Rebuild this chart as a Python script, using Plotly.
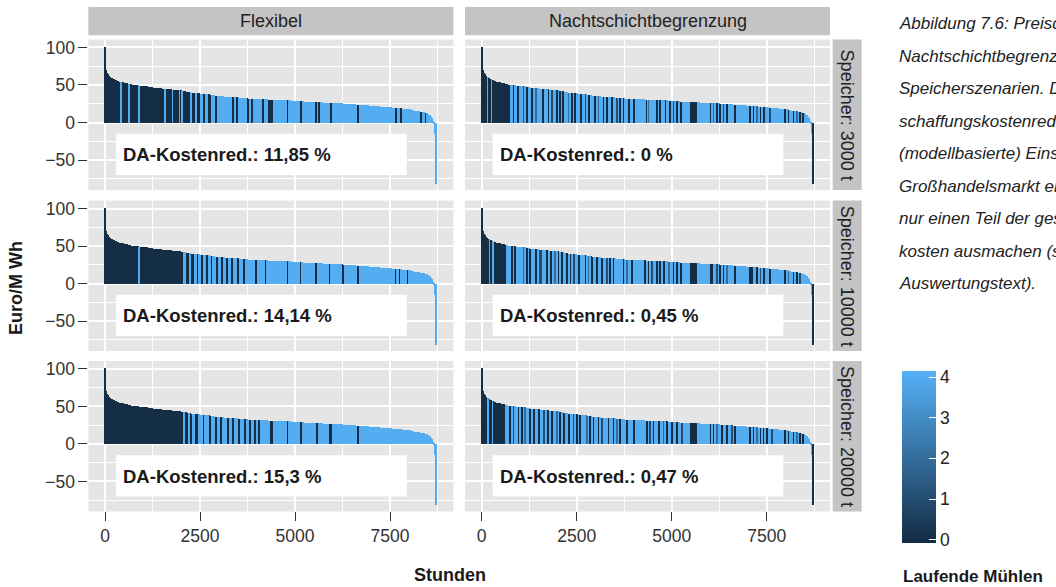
import plotly.graph_objects as go
from bisect import bisect_right

# ------------------------------------------------------------------ data
spalten = ["Flexibel", "Nachtschichtbegrenzung"]
zeilen = ["Speicher: 3000 t", "Speicher: 10000 t", "Speicher: 20000 t"]
kostenred = [["11,85 %", "0 %"], ["14,14 %", "0,45 %"], ["15,3 %", "0,47 %"]]

x_ticks = [0, 2500, 5000, 7500]
x_minor = [1250, 3750, 6250, 8750]
y_ticks = [-50, 0, 50, 100]
y_minor = [-75, -25, 25, 75]
muehlen_ticks = [0, 1, 2, 3, 4]

# sorted price duration curve (hour where a level starts, price in Euro/MWh)
preis_stunden = [0, 25, 45, 70, 100, 135, 170, 215, 260, 320, 380, 450, 520, 610, 700, 800,
                 900, 1020, 1150, 1270, 1400, 1520, 1650, 1770, 1900, 2020, 2150, 2270, 2400,
                 2520, 2650, 2770, 2900, 3020, 3150, 3270, 3400, 3520, 3650, 3770, 3900, 4020,
                 4150, 4300, 4450, 4600, 4750, 4900, 5050, 5220, 5400, 5570, 5750, 5920, 6100,
                 6270, 6450, 6620, 6800, 6950, 7100, 7250, 7400, 7550, 7700, 7820, 7950, 8050,
                 8150, 8230, 8300, 8360, 8420, 8460, 8500, 8530, 8560, 8585, 8610, 8625, 8640,
                 8650, 8660, 8670, 8680, 8690, 8700, 8710]
preis_werte = [101, 70, 67, 65, 63, 61.5, 60, 58.5, 57.5, 56, 55, 54, 53, 52, 51, 50,
               49.5, 48.7, 48, 47.2, 46.5, 45.7, 45, 44.2, 43.5, 42.5, 41.5, 40.5, 39.5,
               38.7, 38, 37.2, 36.5, 35.7, 35, 34.5, 34, 33.5, 33, 32.5, 32, 31.7,
               31.5, 31.2, 31, 30.5, 30, 29.5, 29, 28.5, 28, 27.5, 27, 26.5, 26,
               25.5, 25, 24.5, 24, 23.2, 22.5, 21.7, 21, 20.2, 19.5, 18.7, 18, 17.2,
               16.5, 15.7, 15, 14.2, 13.5, 12.7, 12, 11, 10, 8.5, 7, 5, 3,
               1, -2, -5, -9, -15, -22, -81]
stunden_ende = 8730
assert len(preis_stunden) == len(preis_werte)

# hours with fewer running mills (all other hours: 4 mills)
flex3_start = [0, 455, 680, 925, 1615, 1810, 1990, 2060, 2290, 2430, 2580, 2720, 2920, 3360, 3470,
               3760, 3860, 4150, 4300, 4810, 5160, 5560, 5630, 5950, 6650, 7660, 7790, 8320, 8440]
flex3_ende = [420, 640, 890, 1580, 1780, 1960, 2030, 2260, 2400, 2520, 2650, 2800, 2960, 3400, 3510,
              3800, 3900, 4190, 4440, 4850, 5200, 5600, 5670, 5990, 6690, 7700, 7830, 8360, 8480]
flex3_muehlen = [0, 0, 0, 0, 0, 0, 0, 0, 0, 0, 0, 0, 0, 0, 0,
                 0, 0, 0, 0, 0, 0, 0, 0, 0, 0, 0, 0, 0, 0]

flex10_start = [0, 940, 2150, 2280, 2420, 2560, 2680, 2800, 2930, 3080, 3210, 3350, 3500, 3660,
                3980, 4230, 4820, 5160, 5560, 5910, 6260, 6650, 7660, 7760, 7970]
flex10_ende = [900, 2070, 2210, 2340, 2480, 2610, 2740, 2850, 2990, 3120, 3260, 3390, 3540, 3700,
               4010, 4260, 4850, 5190, 5590, 5940, 6290, 6690, 7690, 7790, 8000]
flex10_muehlen = [0, 0, 0, 0, 0, 0, 0, 0, 0, 0, 0, 0, 0, 0,
                  0, 0, 0, 0, 0, 0, 0, 0, 0, 0, 0]

flex20_start = [0, 2130, 2260, 2400, 2590, 2760, 2920, 3050, 3230, 3360, 3520, 3690, 3800, 3950,
                4060, 4350, 4810, 5160, 5580, 5930, 6650]
flex20_ende = [2060, 2190, 2310, 2450, 2640, 2810, 2970, 3100, 3270, 3400, 3560, 3730, 3840, 3990,
               4100, 4440, 4850, 5200, 5620, 5970, 6690]
flex20_muehlen = [0, 0, 0, 0, 0, 0, 0, 0, 0, 0, 0, 0, 0, 0,
                  0, 0, 0, 0, 0, 0, 0]

nacht3_start = [0, 185, 285, 830, 920, 1095, 1185, 1315, 1405, 1605,
                1755, 1840, 1975, 2060, 2130, 2280, 2370, 2455, 2605, 2720,
                2805, 2980, 3070, 3200, 3290, 3420, 3550, 3640, 3725, 3860,
                3990, 4340, 4385, 4605, 4690, 4825, 4955, 5045, 5130, 5220,
                5480, 6010, 6095, 6185, 6270, 6360, 6445, 6665, 7060, 7150,
                7235, 7325, 7410, 7585, 7980, 8070, 8200, 8290, 8375, 8445, 8710]
nacht3_ende = [150, 250, 740, 870, 990, 1135, 1225, 1355, 1445, 1645,
               1795, 1880, 2015, 2100, 2170, 2320, 2410, 2495, 2645, 2760,
               2845, 3020, 3110, 3240, 3330, 3460, 3590, 3680, 3765, 3900,
               4030, 4375, 4425, 4645, 4730, 4865, 4995, 5085, 5170, 5260,
               5660, 6050, 6135, 6225, 6310, 6400, 6485, 6705, 7100, 7190,
               7275, 7365, 7450, 7625, 8020, 8110, 8240, 8330, 8415, 8485, 8730]
nacht3_muehlen = [0, 0, 0, 0, 0, 1, 0, 0, 2, 0,
                  0, 1, 0, 0, 0, 2, 0, 0, 0, 1,
                  0, 0, 2, 0, 0, 0, 1, 0, 0, 0,
                  0, 0, 2, 0, 0, 0, 0, 1, 0, 0,
                  0, 0, 2, 0, 0, 1, 0, 0, 0, 0,
                  2, 0, 0, 1, 0, 0, 0, 2, 0, 0, 0]

nacht10_start = [0, 240, 330, 790, 875, 1095, 1185, 1270, 1405, 1535,
                 1710, 1800, 1930, 2015, 2105, 2235, 2325, 2410, 2545, 2720,
                 2805, 2895, 3025, 3155, 3290, 3375, 3465, 3725, 3815, 3945,
                 4295, 4385, 4475, 4605, 4690, 4780, 4910, 5045, 5130, 5220,
                 5480, 6010, 6185, 6270, 6360, 6445, 6665, 7060, 7235, 7325,
                 7410, 7585, 7980, 8070, 8200, 8290, 8375, 8710]
nacht10_ende = [200, 290, 660, 830, 915, 1135, 1225, 1310, 1445, 1575,
                1750, 1840, 1970, 2055, 2145, 2275, 2365, 2450, 2585, 2760,
                2845, 2935, 3065, 3195, 3330, 3415, 3505, 3765, 3855, 3985,
                4335, 4425, 4515, 4645, 4730, 4820, 4950, 5085, 5170, 5260,
                5660, 6095, 6225, 6310, 6400, 6485, 6705, 7150, 7275, 7365,
                7450, 7625, 8020, 8110, 8240, 8330, 8415, 8730]
nacht10_muehlen = [0, 0, 0, 0, 0, 2, 0, 0, 0, 1,
                   0, 0, 2, 0, 0, 0, 0, 1, 0, 0,
                   2, 0, 0, 0, 1, 0, 0, 0, 2, 0,
                   0, 0, 1, 0, 0, 0, 2, 0, 0, 0,
                   0, 0, 1, 0, 0, 2, 0, 0, 0, 1,
                   0, 0, 0, 2, 0, 0, 1, 0]

nacht20_start = [0, 200, 310, 745, 835, 965, 1050, 1140, 1270, 1360,
                 1490, 1620, 1730, 1840, 1975, 2060, 2150, 2280, 2410, 2500,
                 2585, 2765, 2850, 2940, 3070, 3155, 3335, 3465, 3550, 3640,
                 3815, 3990, 4340, 4430, 4515, 4650, 4780, 4865, 5000, 5130,
                 5260, 5480, 6010, 6095, 6185, 6315, 6445, 6580, 6665, 7060,
                 7150, 7235, 7325, 7410, 7500, 7630, 7980, 8070, 8200, 8290,
                 8375, 8445, 8710]
nacht20_ende = [160, 275, 610, 785, 875, 1005, 1090, 1180, 1310, 1400,
                1530, 1660, 1770, 1880, 2015, 2100, 2190, 2320, 2450, 2540,
                2625, 2805, 2890, 2980, 3110, 3195, 3375, 3505, 3590, 3680,
                3855, 4030, 4380, 4470, 4555, 4690, 4820, 4905, 5040, 5170,
                5300, 5675, 6050, 6135, 6225, 6355, 6485, 6620, 6705, 7100,
                7190, 7275, 7365, 7450, 7540, 7670, 8020, 8110, 8240, 8330,
                8415, 8485, 8730]
nacht20_muehlen = [0, 0, 0, 0, 1, 0, 0, 2, 0, 0,
                   0, 1, 0, 0, 2, 0, 0, 0, 1, 0,
                   0, 2, 0, 0, 0, 1, 0, 0, 2, 0,
                   0, 0, 0, 1, 0, 0, 2, 0, 0, 0,
                   1, 0, 0, 0, 2, 0, 0, 1, 0, 0,
                   0, 2, 0, 0, 0, 1, 0, 0, 0, 2,
                   0, 0, 0]

standard_muehlen = 4

caption = [
    "Abbildung 7.6: Preisdauerlinien für die",
    "Nachtschichtbegrenzung und die",
    "Speicherszenarien. Die Be-",
    "schaffungskostenreduktion bezieht sich auf den",
    "(modellbasierte) Einsatz am",
    "Großhandelsmarkt ein, der",
    "nur einen Teil der gesamten Strom-",
    "kosten ausmachen (siehe",
    "Auswertungstext).",
]

panel_daten = [
    [(flex3_start, flex3_ende, flex3_muehlen), (nacht3_start, nacht3_ende, nacht3_muehlen)],
    [(flex10_start, flex10_ende, flex10_muehlen), (nacht10_start, nacht10_ende, nacht10_muehlen)],
    [(flex20_start, flex20_ende, flex20_muehlen), (nacht20_start, nacht20_ende, nacht20_muehlen)],
]

# ------------------------------------------------------------------ styling / layout
W, H = 1056, 587
FONT = "Liberation Sans, Arial, Helvetica, sans-serif"
COLORSCALE = [[0, "#132B43"], [1, "#56B1F7"]]
PANEL_BG = "#E5E5E5"
STRIP_BG = "#C4C4C4"
TXT = "#222222"
TICK = "#333333"

spalten_px = [(88.4, 453.4), (465.0, 830.0)]
zeilen_px = [(37.7, 188.7), (199.3, 350.3), (360.2, 511.2)]
strip_top = (5.0, 33.3)
strip_right = (832.7, 861.7)
x_range = [-438, 9167]
y_range = [-90, 110.5]
cmin, cmax = -0.08, 4.15
cb_top, cb_bot, cb_left, cb_thick = 370.0, 543.0, 902.0, 34


def fx(p):
    return p / W


def fy(p):
    return 1 - p / H


def balken(start, ende, muehlen):
    grenzen = sorted(set(preis_stunden + [stunden_ende] + start + ende))
    grenzen = [g for g in grenzen if g <= stunden_ende]
    xs, ws, ys, cs = [], [], [], []
    for a, b in zip(grenzen[:-1], grenzen[1:]):
        i = bisect_right(preis_stunden, a) - 1
        m = standard_muehlen
        for s, e, mm in zip(start, ende, muehlen):
            if s <= a < e:
                m = mm
                break
        xs.append((a + b) / 2)
        ws.append(b - a)
        ys.append(preis_werte[i])
        cs.append(m)
    return xs, ws, ys, cs


fig = go.Figure()
layout = {}
shapes = []
annotations = []

for r in range(3):
    for c in range(2):
        k = r * 2 + c + 1
        xa = "x" if k == 1 else f"x{k}"
        ya = "y" if k == 1 else f"y{k}"
        xkey = "xaxis" if k == 1 else f"xaxis{k}"
        ykey = "yaxis" if k == 1 else f"yaxis{k}"
        xs, ws, ys, cs = balken(*panel_daten[r][c])
        fig.add_trace(go.Bar(
            x=xs, y=ys, width=ws, xaxis=xa, yaxis=ya,
            marker=dict(color=cs, colorscale=COLORSCALE, cmin=cmin, cmax=cmax,
                        line=dict(width=0),
                        showscale=(k == 1),
                        colorbar=dict(
                            x=fx(cb_left), xanchor="left",
                            y=fy((cb_top + cb_bot) / 2), yanchor="middle",
                            len=(cb_bot - cb_top) / H, lenmode="fraction",
                            thickness=cb_thick, thicknessmode="pixels",
                            outlinewidth=0, xpad=0, ypad=0,
                            tickvals=muehlen_ticks, ticks="inside", ticklen=7,
                            tickcolor="white", tickwidth=1.3,
                            tickfont=dict(size=17.5, color=TXT, family=FONT),
                        )),
            hoverinfo="skip", showlegend=False,
        ))
        x0, x1 = spalten_px[c]
        y0, y1 = zeilen_px[r]
        layout[xkey] = dict(
            domain=[fx(x0), fx(x1)], anchor=ya, range=x_range,
            showgrid=True, gridcolor="white", gridwidth=1.8, zeroline=False,
            tickvals=x_ticks, showticklabels=(r == 2),
            ticks="outside" if r == 2 else "", ticklen=9, tickwidth=1.3, tickcolor=TICK,
            tickfont=dict(size=17.5, color=TICK, family=FONT),
            minor=dict(tickvals=x_minor, showgrid=True, gridcolor="white", gridwidth=0.9),
            showline=False, fixedrange=True,
        )
        layout[ykey] = dict(
            domain=[fy(y1), fy(y0)], anchor=xa, range=y_range,
            showgrid=True, gridcolor="white", gridwidth=1.8, zeroline=False,
            tickvals=y_ticks, showticklabels=(c == 0),
            ticks="outside" if c == 0 else "", ticklen=9, tickwidth=1.3, tickcolor=TICK,
            tickfont=dict(size=17.5, color=TICK, family=FONT),
            minor=dict(tickvals=y_minor, showgrid=True, gridcolor="white", gridwidth=0.9),
            showline=False, fixedrange=True,
        )
        # label box + text
        shapes.append(dict(type="rect", xref=xa, yref=ya, x0=290, x1=7940, y0=-70, y1=-15,
                           fillcolor="white", line=dict(width=0), layer="above"))
        annotations.append(dict(xref=xa, yref=ya, x=420, y=-43, xanchor="left", yanchor="middle",
                                text="<b>DA-Kostenred.: " + kostenred[r][c] + "</b>",
                                showarrow=False,
                                font=dict(size=18.5, color="#1A1A1A", family=FONT)))

# facet strips
for c in range(2):
    x0, x1 = spalten_px[c]
    shapes.append(dict(type="rect", xref="paper", yref="paper", x0=fx(x0), x1=fx(x1),
                       y0=fy(strip_top[1]), y1=fy(strip_top[0]),
                       fillcolor=STRIP_BG, line=dict(width=0), layer="below"))
    annotations.append(dict(xref="paper", yref="paper", x=fx((x0 + x1) / 2),
                            y=fy(sum(strip_top) / 2), text=spalten[c], showarrow=False,
                            xanchor="center", yanchor="middle",
                            font=dict(size=18, color=TXT, family=FONT)))
for r in range(3):
    y0, y1 = zeilen_px[r]
    shapes.append(dict(type="rect", xref="paper", yref="paper", x0=fx(strip_right[0]),
                       x1=fx(strip_right[1]), y0=fy(y1), y1=fy(y0),
                       fillcolor=STRIP_BG, line=dict(width=0), layer="below"))
    annotations.append(dict(xref="paper", yref="paper", x=fx(sum(strip_right) / 2),
                            y=fy((y0 + y1) / 2), text=zeilen[r], showarrow=False,
                            textangle=90, xanchor="center", yanchor="middle",
                            font=dict(size=18, color=TXT, family=FONT)))

# axis titles
annotations.append(dict(xref="paper", yref="paper", x=fx(450), y=fy(575), text="<b>Stunden</b>",
                        showarrow=False, xanchor="center", yanchor="middle",
                        font=dict(size=18, color="#1A1A1A", family=FONT)))
annotations.append(dict(xref="paper", yref="paper", x=fx(16), y=fy(287), text="<b>Euro/M Wh</b>",
                        showarrow=False, textangle=-90, xanchor="center", yanchor="middle",
                        font=dict(size=18, color="#1A1A1A", family=FONT)))
# legend title
annotations.append(dict(xref="paper", yref="paper", x=fx(901), y=fy(576.5), text="<b>Laufende Mühlen</b>",
                        showarrow=False, xanchor="left", yanchor="middle",
                        font=dict(size=17, color="#1A1A1A", family=FONT)))
# left-edge colorbar ticks (white)
for v in muehlen_ticks:
    yy = cb_bot - (v - cmin) / (cmax - cmin) * (cb_bot - cb_top)
    shapes.append(dict(type="line", xref="paper", yref="paper", x0=fx(cb_left), x1=fx(cb_left + 7),
                       y0=fy(yy), y1=fy(yy), line=dict(color="white", width=1.3), layer="above"))

# caption (runs past the right page edge as in the original)
for i, line in enumerate(caption):
    annotations.append(dict(xref="paper", yref="paper", x=fx(897), y=fy(21.7 + i * 32.65),
                            text="<i>" + line + "</i>", showarrow=False,
                            xanchor="left", yanchor="middle",
                            font=dict(size=17, color=TXT, family=FONT)))

fig.update_layout(
    width=W, height=H, autosize=False,
    margin=dict(l=0, r=0, t=0, b=0, pad=0),
    paper_bgcolor="white", plot_bgcolor=PANEL_BG,
    barmode="overlay", bargap=0,
    shapes=shapes, annotations=annotations,
    font=dict(family=FONT, color=TXT),
    **layout,
)

fig.write_html("out.html", config={"displayModeBar": False},
               post_script="document.body.style.margin='0';")
